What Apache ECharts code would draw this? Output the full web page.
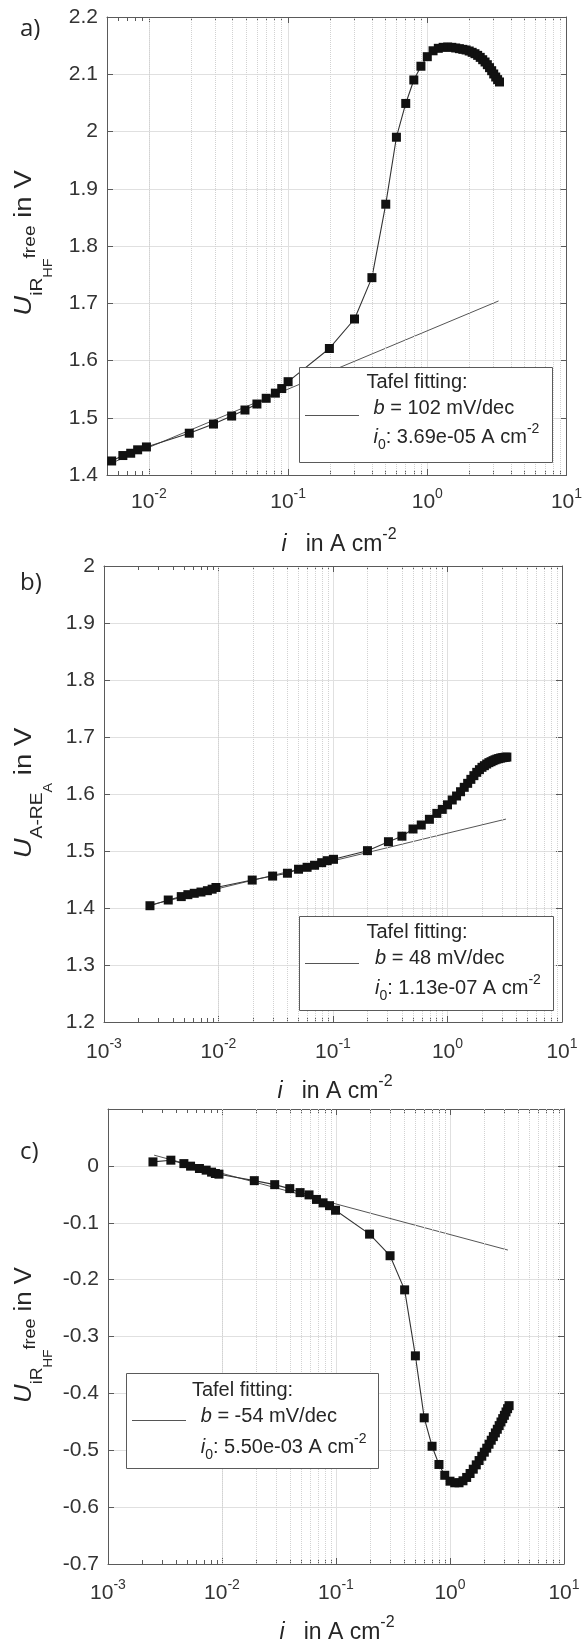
<!DOCTYPE html>
<html>
<head>
<meta charset="utf-8">
<script src="https://cdn.jsdelivr.net/npm/echarts@6/dist/echarts.min.js"></script>
<style>
html,body{margin:0;padding:0;background:#fff;}
#chart{width:582px;height:1640px;}
</style>
</head>
<body>
<div id="chart"></div>
<script>
// ---------------- data ----------------
// Panel a) U_iR-free vs i
const aCurrent = [0.0054,0.0065,0.0074,0.0083,0.0096,0.0195,0.0291,0.0393,0.049,0.0597,0.0696,0.081,0.090,0.100,0.198,0.30,0.40,0.503,0.60,0.70,0.80,0.90,1.0,1.1,1.2,1.3,1.4,1.5,1.6,1.7,1.8,1.9,2.0,2.1,2.2,2.3,2.4,2.5,2.6,2.7,2.8,2.9,3.0,3.1,3.2,3.3];
const aVoltage = [1.4245,1.434,1.438,1.444,1.449,1.473,1.489,1.503,1.5135,1.524,1.534,1.543,1.551,1.563,1.621,1.6725,1.7447,1.873,1.99,2.049,2.09,2.114,2.1307,2.141,2.1453,2.147,2.1476,2.147,2.1459,2.1447,2.1435,2.1424,2.1406,2.1383,2.1359,2.133,2.1295,2.1254,2.1214,2.1167,2.1115,2.1062,2.1005,2.0952,2.0906,2.0865];
const aFitCurrent = [0.0054, 3.25];
const aFitVoltage = [1.421, 1.704];
const aXRange = [0.005, 10];
const aYRange = [1.4, 2.2];
const aLegend = ['Tafel fitting:', '102 mV/dec', '3.69e-05 A cm'];

// Panel b) U_A-RE_A vs i
const bCurrent = [0.00252,0.00364,0.00473,0.0054,0.00614,0.00703,0.008,0.0088,0.0095,0.0197,0.0297,0.040,0.050,0.0594,0.069,0.0796,0.089,0.101,0.20,0.305,0.40,0.50,0.59,0.695,0.807,0.90,1.0,1.1,1.2,1.3,1.4,1.5,1.6,1.7,1.8,1.9,2.0,2.1,2.2,2.3,2.4,2.5,2.6,2.7,2.8,2.9,3.0,3.1,3.2,3.3];
const bVoltage = [1.404,1.414,1.42,1.4234,1.4258,1.428,1.4304,1.433,1.436,1.449,1.456,1.461,1.468,1.4714,1.475,1.4795,1.483,1.4854,1.5006,1.5163,1.526,1.5386,1.5456,1.5556,1.566,1.573,1.581,1.5895,1.5965,1.604,1.6117,1.6187,1.6257,1.6322,1.638,1.6427,1.6468,1.6497,1.6526,1.655,1.6567,1.6585,1.66,1.6612,1.6622,1.663,1.6636,1.6641,1.6645,1.6648];
const bFitCurrent = [0.0025, 3.24];
const bFitVoltage = [1.405, 1.556];
const bXRange = [0.001, 10];
const bYRange = [1.2, 2.0];
const bLegend = ['Tafel fitting:', '48 mV/dec', '1.13e-07 A cm'];

// Panel c) U_iR-free (cathode) vs i
const cCurrent = [0.00248,0.00356,0.00463,0.0053,0.00634,0.00726,0.0081,0.00875,0.0094,0.0192,0.029,0.0393,0.0484,0.058,0.0674,0.077,0.0877,0.099,0.197,0.298,0.40,0.497,0.594,0.696,0.80,0.90,1.0,1.1,1.2,1.3,1.4,1.5,1.6,1.7,1.8,1.9,2.0,2.1,2.2,2.3,2.4,2.5,2.6,2.7,2.8,2.9,3.0,3.1,3.2,3.3];
const cVoltage = [0.007,0.010,0.004,-0.0005,-0.0046,-0.0075,-0.011,-0.0134,-0.0146,-0.026,-0.033,-0.040,-0.047,-0.051,-0.059,-0.065,-0.070,-0.078,-0.12,-0.158,-0.218,-0.334,-0.443,-0.493,-0.525,-0.544,-0.5544,-0.5572,-0.5572,-0.5537,-0.5478,-0.5409,-0.5333,-0.5257,-0.5181,-0.5105,-0.5034,-0.4964,-0.4894,-0.4824,-0.476,-0.4695,-0.4631,-0.4567,-0.4503,-0.4444,-0.4386,-0.4327,-0.4269,-0.4216];
const cFitCurrent = [0.00254, 3.22];
const cFitVoltage = [0.0188, -0.148];
const cXRange = [0.001, 10];
const cYRange = [-0.7, 0.1];
const cLegend = ['Tafel fitting:', '-54 mV/dec', '5.50e-03 A cm'];

// tick helpers for the log axes
const minorFactors = [2,3,4,5,6,7,8,9];
const decadeStarts = [0.001, 0.01, 0.1, 1];

// ---------------- styling ----------------
const FONT = "'Liberation Sans', Arial, Helvetica, sans-serif";
const TXT = '#333333';
const AXIS = '#5a5a5a';
const GRIDC = '#e0e0e0';
const MINORC = '#d2d2d2';

function minorValues(r) {
  const out = [];
  decadeStarts.forEach(d => minorFactors.forEach(f => {
    const v = +(d * f).toPrecision(6);
    if (v > r[0] && v < r[1]) out.push(v);
  }));
  return out;
}
function decadeLabel(v) {
  const e = Math.round(Math.log10(v));
  if (Math.abs(v / Math.pow(10, e) - 1) > 1e-6) return '';
  return '{m|10}{e|' + e + '}';
}
function pairs(xs, ys) { return xs.map((x, k) => [x, ys[k]]); }

const panels = [
  {cur: aCurrent, vol: aVoltage, fx: aFitCurrent, fy: aFitVoltage, xr: aXRange, yr: aYRange,
   grid: {left: 107, right: 15.5, top: 17, height: 458}, xMargin: 12, hideTop: false},
  {cur: bCurrent, vol: bVoltage, fx: bFitCurrent, fy: bFitVoltage, xr: bXRange, yr: bYRange,
   grid: {left: 104, right: 20, top: 566, height: 456}, xMargin: 15, hideTop: false},
  {cur: cCurrent, vol: cVoltage, fx: cFitCurrent, fy: cFitVoltage, xr: cXRange, yr: cYRange,
   grid: {left: 108, right: 18, top: 1109, height: 455}, xMargin: 14, hideTop: true}
];

const grids = [], xAxes = [], yAxes = [], series = [];
panels.forEach((p, i) => {
  grids.push(Object.assign({containLabel: false, outerBoundsMode: 'none'}, p.grid));
  const minors = minorValues(p.xr);
  const base = {type: 'log', logBase: 10, gridIndex: i, min: p.xr[0], max: p.xr[1]};
  xAxes.push(Object.assign({}, base, {
    position: 'bottom',
    axisLine: {show: true, onZero: false, lineStyle: {color: AXIS, width: 1}},
    axisTick: {show: true, inside: true, length: 6, lineStyle: {color: AXIS}},
    axisLabel: {show: true, margin: p.xMargin, formatter: decadeLabel, color: TXT,
      fontFamily: FONT, fontSize: 21,
      rich: {
        m: {fontSize: 21, fontFamily: FONT, color: TXT, lineHeight: 30},
        e: {fontSize: 14, fontFamily: FONT, color: TXT, verticalAlign: 'top', height: 14}
      }},
    splitLine: {show: true, lineStyle: {color: GRIDC, width: 1}}
  }));
  xAxes.push(Object.assign({}, base, {
    position: 'top',
    axisLine: {show: true, onZero: false, lineStyle: {color: AXIS, width: 1}},
    axisTick: {show: true, inside: true, length: 6, lineStyle: {color: AXIS}},
    axisLabel: {show: false}, splitLine: {show: false}
  }));
  xAxes.push(Object.assign({}, base, {
    position: 'bottom',
    axisLine: {show: false, onZero: false},
    axisTick: {show: true, inside: true, length: 4, customValues: minors, lineStyle: {color: AXIS}},
    axisLabel: {show: false}, splitLine: {show: false}
  }));
  xAxes.push(Object.assign({}, base, {
    position: 'top',
    axisLine: {show: false, onZero: false},
    axisTick: {show: true, inside: true, length: 4, customValues: minors, lineStyle: {color: AXIS}},
    axisLabel: {show: false}, splitLine: {show: false}
  }));
  const ybase = {type: 'value', gridIndex: i, min: p.yr[0], max: p.yr[1], interval: 0.1};
  yAxes.push(Object.assign({}, ybase, {
    position: 'left',
    axisLine: {show: true, onZero: false, lineStyle: {color: AXIS, width: 1}},
    axisTick: {show: true, inside: true, length: 6, lineStyle: {color: AXIS}},
    axisLabel: {show: true, margin: 9, color: TXT, fontFamily: FONT, fontSize: 21,
      formatter: v => (p.hideTop && Math.abs(v - p.yr[1]) < 1e-9) ? '' : String(+(+v).toFixed(2))},
    splitLine: {show: true, lineStyle: {color: GRIDC, width: 1}}
  }));
  yAxes.push(Object.assign({}, ybase, {
    position: 'right',
    axisLine: {show: true, onZero: false, lineStyle: {color: AXIS, width: 1}},
    axisTick: {show: true, inside: true, length: 6, lineStyle: {color: AXIS}},
    axisLabel: {show: false}, splitLine: {show: false}
  }));
  // minor grid (dotted)
  series.push({
    type: 'line', xAxisIndex: i * 4, yAxisIndex: i * 2, data: [], silent: true, z: 1,
    markLine: {silent: true, symbol: ['none', 'none'], label: {show: false}, animation: false,
      lineStyle: {type: 'dotted', color: MINORC, width: 1},
      emphasis: {disabled: true},
      data: minors.map(v => ({xAxis: v}))}
  });
  // Tafel fit
  series.push({
    type: 'line', xAxisIndex: i * 4, yAxisIndex: i * 2, data: pairs(p.fx, p.fy), z: 3,
    showSymbol: false, symbol: 'none', silent: true,
    lineStyle: {color: '#555555', width: 1}
  });
  // measurement: connecting line
  series.push({
    type: 'line', xAxisIndex: i * 4, yAxisIndex: i * 2, data: pairs(p.cur, p.vol), z: 4,
    showSymbol: false, symbol: 'none', silent: true,
    lineStyle: {color: '#333333', width: 1.1}
  });
  // measurement: square markers
  series.push({
    type: 'scatter', xAxisIndex: i * 4, yAxisIndex: i * 2, data: pairs(p.cur, p.vol), z: 5,
    symbol: 'rect', symbolSize: 9, silent: true,
    itemStyle: {color: '#111111', borderWidth: 0, opacity: 1}
  });
});

// ---------------- text / legend graphics ----------------
const T = {fontFamily: FONT, fill: '#262626'};
function yTitle(x, y, sub, subsub, sup, stretch) {
  const text = '{u|U}{s1|' + sub + '}{s2|' + subsub + '}' + (sup ? '{sp|' + sup + '}' : '') + '{n| in V}';
  return {type: 'text', x: x, y: y, rotation: Math.PI / 2, scaleX: stretch, scaleY: 1, z: 100,
    style: Object.assign({}, T, {text: text, align: 'center', verticalAlign: 'middle',
      rich: {
        u: Object.assign({}, T, {fontSize: 23, fontStyle: 'italic', lineHeight: 52}),
        n: Object.assign({}, T, {fontSize: 23, lineHeight: 52}),
        s1: Object.assign({}, T, {fontSize: 16, verticalAlign: 'bottom', height: 26}),
        s2: Object.assign({}, T, {fontSize: 12, verticalAlign: 'bottom', height: 4}),
        sp: Object.assign({}, T, {fontSize: 16, verticalAlign: 'bottom', height: 40})
      }})};
}
function xTitle(x, y) {
  return {type: 'text', x: x, y: y, z: 100,
    style: Object.assign({}, T, {text: '{it|i}{n|   in A cm}{sp|-2}', align: 'center', verticalAlign: 'middle',
      rich: {
        it: Object.assign({}, T, {fontSize: 23, fontStyle: 'italic', lineHeight: 34}),
        n: Object.assign({}, T, {fontSize: 23, lineHeight: 34}),
        sp: Object.assign({}, T, {fontSize: 16, verticalAlign: 'top', height: 14})
      }})};
}
function panelLetter(txt, x, y) {
  return {type: 'text', x: x, y: y, z: 100,
    style: {text: txt, fontFamily: "'Open Sans', 'DejaVu Sans', sans-serif", fontSize: 24, fill: '#262626',
      align: 'left', verticalAlign: 'middle'}};
}
function legend(L, box, lineY, lineX, titleX, textX, ys) {
  const rich = {
    it: Object.assign({}, T, {fontSize: 20, fontStyle: 'italic', lineHeight: 30}),
    n: Object.assign({}, T, {fontSize: 20, lineHeight: 30}),
    sb: Object.assign({}, T, {fontSize: 14, verticalAlign: 'bottom', height: 14}),
    sp: Object.assign({}, T, {fontSize: 14, verticalAlign: 'top', height: 14})
  };
  return {type: 'group', z: 100, children: [
    {type: 'rect', z: 100, shape: {x: box[0], y: box[1], width: box[2], height: box[3]},
      style: {fill: '#ffffff', stroke: '#5a5a5a', lineWidth: 1}},
    {type: 'line', z: 101, shape: {x1: lineX[0], y1: lineY, x2: lineX[1], y2: lineY},
      style: {stroke: '#555555', lineWidth: 1}},
    {type: 'text', z: 101, x: titleX, y: ys[0],
      style: Object.assign({}, T, {text: '{n|' + L[0] + '}', align: 'center', verticalAlign: 'middle', rich: rich})},
    {type: 'text', z: 101, x: textX, y: ys[1],
      style: Object.assign({}, T, {text: '{it|b}{n| = ' + L[1] + '}', align: 'left', verticalAlign: 'middle', rich: rich})},
    {type: 'text', z: 101, x: textX, y: ys[2],
      style: Object.assign({}, T, {text: '{it|i}{sb|0}{n|: ' + L[2] + '}{sp|-2}', align: 'left', verticalAlign: 'middle', rich: rich})}
  ]};
}

const graphics = [
  panelLetter('a)', 20, 29),
  panelLetter('b)', 20, 583),
  panelLetter('c)', 20, 1152),
  yTitle(25, 243, 'iR', 'HF', 'free', 1.2),
  yTitle(25, 793, 'A-RE', 'A', null, 1.2),
  yTitle(25, 1335, 'iR', 'HF', 'free', 1.12),
  xTitle(339, 545),
  xTitle(335, 1092),
  xTitle(337, 1633),
  legend(aLegend, [299.5, 367.5, 253, 95], 415.5, [305, 359], 417, 373.5, [382, 408, 437]),
  legend(bLegend, [299.5, 916.5, 254, 94], 963.5, [305, 359], 417, 375, [932, 958, 988]),
  legend(cLegend, [126.5, 1373.5, 252, 95], 1420.5, [132, 186], 242.5, 200.7, [1390, 1416, 1447])
];

const chart = echarts.init(document.getElementById('chart'), null, {renderer: 'canvas'});
chart.setOption({
  backgroundColor: '#ffffff',
  animation: false,
  grid: grids,
  xAxis: xAxes,
  yAxis: yAxes,
  series: series,
  graphic: graphics
});
</script>
</body>
</html>
